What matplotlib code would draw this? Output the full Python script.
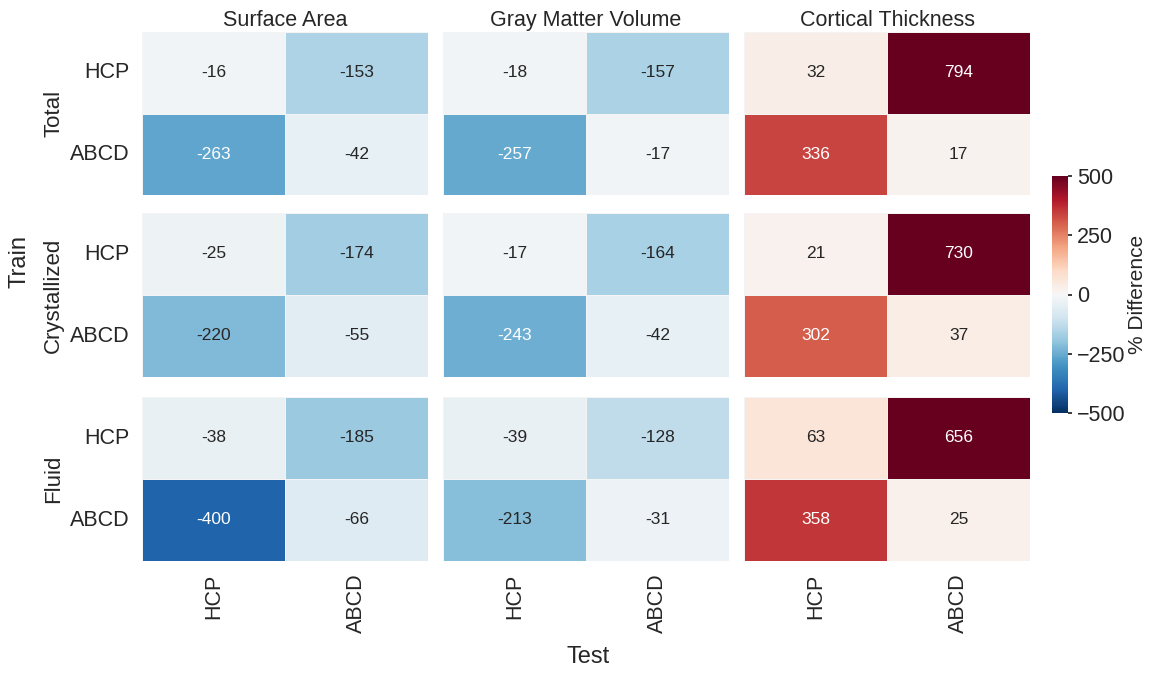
import numpy as np
import matplotlib
matplotlib.use("Agg")
import matplotlib.pyplot as plt
import seaborn as sns

sns.set_theme(style="white")
plt.rcParams['font.family'] = ['Liberation Sans', 'DejaVu Sans']

train_groups = ["Total", "Crystallized", "Fluid"]
measures = ["Surface Area", "Gray Matter Volume", "Cortical Thickness"]
sites = ["HCP", "ABCD"]

# rows: train site (HCP, ABCD), cols: test site (HCP, ABCD)
surface_area = [
    [[-16, -153], [-263, -42]],
    [[-25, -174], [-220, -55]],
    [[-38, -185], [-400, -66]],
]
gray_matter = [
    [[-18, -157], [-257, -17]],
    [[-17, -164], [-243, -42]],
    [[-39, -128], [-213, -31]],
]
cortical_thickness = [
    [[32, 794], [336, 17]],
    [[21, 730], [302, 37]],
    [[63, 656], [358, 25]],
]
all_data = [surface_area, gray_matter, cortical_thickness]

W, H = 1149, 673
fig = plt.figure(figsize=(W / 100, H / 100), dpi=100)

col_x = [(142, 428), (443, 729), (744, 1030)]
row_y = [(32, 195), (213, 377), (397, 561)]

for r, group in enumerate(train_groups):
    for c, measure in enumerate(measures):
        x0, x1 = col_x[c]
        y0, y1 = row_y[r]
        ax = fig.add_axes([x0 / W, 1 - y1 / H, (x1 - x0) / W, (y1 - y0) / H])
        data = np.array(all_data[c][r])
        sns.heatmap(data, ax=ax, cmap="RdBu_r", vmin=-500, vmax=500,
                    annot=True, fmt="d", cbar=False,
                    annot_kws={"fontsize": 12.5},
                    linewidths=0.5, linecolor="#f4f4f4",
                    xticklabels=sites, yticklabels=sites)
        ax.tick_params(length=0, labelsize=15.5, pad=9)
        if r == 0:
            ax.set_title(measure, fontsize=15.5, pad=4)
        if r < 2:
            ax.set_xticklabels([])
        else:
            ax.set_xticklabels(sites, rotation=90)
        if c == 0:
            ax.set_yticklabels(sites, rotation=0)
            ax.set_ylabel(group, fontsize=16, labelpad=4)
        else:
            ax.set_yticklabels([])

cax = fig.add_axes([1052 / W, 1 - 413 / H, 16 / W, (413 - 176) / H])
sm = plt.cm.ScalarMappable(cmap="RdBu_r", norm=plt.Normalize(-500, 500))
cb = fig.colorbar(sm, cax=cax, ticks=[-500, -250, 0, 250, 500])
cb.outline.set_visible(False)
cb.ax.tick_params(labelsize=15.5, length=3)
cb.set_label("% Difference", fontsize=15, labelpad=2)

fig.text(20 / W, 1 - 262 / H, "Train", rotation=90, fontsize=17,
         ha="center", va="center")
fig.text(588 / W, 1 - 657 / H, "Test", fontsize=17, ha="center", va="center")

fig.savefig("out.png", dpi=100)
